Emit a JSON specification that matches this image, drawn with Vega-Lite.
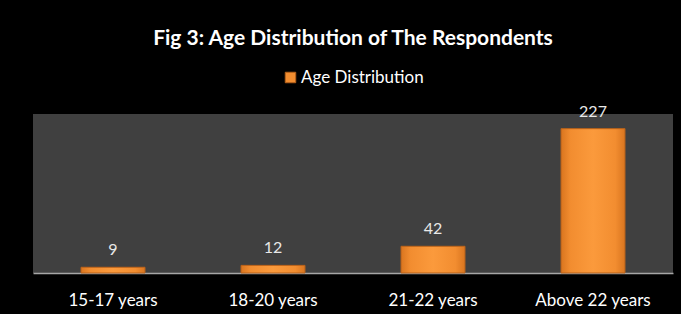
{
  "$schema": "https://vega.github.io/schema/vega-lite/v6.json",
  "width": 640,
  "height": 159,
  "autosize": "none",
  "padding": {"left": 33, "top": 114, "right": 8, "bottom": 41},
  "background": "#000000",
  "title": {
    "text": "Fig 3: Age Distribution of The Respondents",
    "color": "#ffffff",
    "font": "Lato",
    "fontSize": 21,
    "fontWeight": "bold",
    "anchor": "middle",
    "offset": 20
  },
  "data": {
    "values": [
      {"age": "15-17 years", "count": 9, "series": "Age Distribution"},
      {"age": "18-20 years", "count": 12, "series": "Age Distribution"},
      {"age": "21-22 years", "count": 42, "series": "Age Distribution"},
      {"age": "Above 22 years", "count": 227, "series": "Age Distribution"}
    ]
  },
  "encoding": {
    "x": {
      "field": "age",
      "type": "nominal",
      "sort": null,
      "scale": {"paddingInner": 0.6, "paddingOuter": 0.3},
      "axis": {
        "title": null,
        "labelAngle": 0,
        "labelColor": "#ffffff",
        "labelFont": "Lato",
        "labelFontSize": 17,
        "labelPadding": 19,
        "ticks": false,
        "domainColor": "#a6a6a6",
        "domainWidth": 1.5
      }
    },
    "y": {
      "field": "count",
      "type": "quantitative",
      "scale": {"domain": [0, 250]},
      "axis": null
    }
  },
  "layer": [
    {
      "mark": {"type": "bar"},
      "encoding": {
        "color": {
          "field": "series",
          "type": "nominal",
          "scale": {"range": ["#f28d30"]},
          "legend": {
            "title": null,
            "orient": "none",
            "legendX": 249,
            "legendY": -45,
            "direction": "horizontal",
            "symbolType": "square",
            "symbolSize": 110,
            "symbolStrokeColor": "#b5601a",
            "symbolStrokeWidth": 1,
            "labelColor": "#ffffff",
            "labelFont": "Lato",
            "labelFontSize": 17,
            "labelOffset": 2
          }
        }
      }
    },
    {
      "mark": {
        "type": "bar",
        "stroke": "#b5601a",
        "strokeWidth": 1,
        "fill": {
          "gradient": "linear",
          "x1": 0, "y1": 0, "x2": 1, "y2": 0,
          "stops": [
            {"offset": 0, "color": "#d9751f"},
            {"offset": 0.15, "color": "#f28d30"},
            {"offset": 0.5, "color": "#fb9a3c"},
            {"offset": 0.85, "color": "#f28d30"},
            {"offset": 1, "color": "#d9751f"}
          ]
        }
      }
    },
    {
      "mark": {
        "type": "text",
        "baseline": "bottom",
        "dy": -9,
        "color": "#e8e8e8",
        "font": "Lato",
        "fontSize": 16
      },
      "encoding": {
        "text": {"field": "count", "type": "quantitative"}
      }
    }
  ],
  "config": {
    "view": {"fill": "#404040", "stroke": null}
  }
}
